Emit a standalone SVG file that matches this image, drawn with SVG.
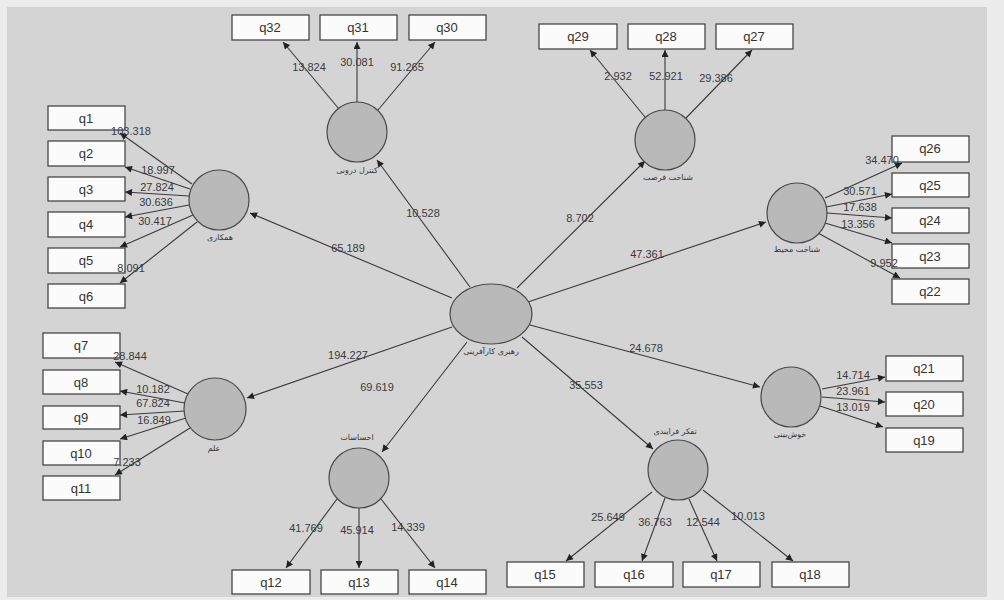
<svg xmlns="http://www.w3.org/2000/svg" width="1004" height="600" viewBox="0 0 1004 600">
<style>
.bg{fill:#d4d4d4}
.box rect{fill:#fbfbfb;stroke:#3a3a3a;stroke-width:1.2}
.box text{font-family:"Liberation Sans",Arial,sans-serif;font-size:13px;fill:#333;text-anchor:middle}
.lv circle,.lv ellipse{fill:#b9b9b9;stroke:#4a4a4a;stroke-width:1.2}
.lv text{font-family:"DejaVu Sans",sans-serif;font-size:8px;fill:#333;text-anchor:middle}
#connectors line{stroke:#3a3a3a;stroke-width:1.1;marker-end:url(#ah)}
.val{font-family:"Liberation Sans",Arial,sans-serif;font-size:11px;fill:#3a3a3a;text-anchor:middle}
</style>
<defs>
<marker id="ah" viewBox="0 0 10 10" refX="10" refY="5" markerWidth="8" markerHeight="7" markerUnits="userSpaceOnUse" orient="auto">
<path d="M0,0 L10,5 L0,10 z" fill="#222"/>
</marker>
</defs>
<rect x="0" y="0" width="1004" height="600" fill="#ececec"/>
<rect class="bg" x="7" y="7" width="980" height="590"/>

<g id="connectors">
<line x1="470" y1="287" x2="377" y2="160"/>
<line x1="517" y1="288" x2="645" y2="161"/>
<line x1="452" y1="298" x2="250" y2="213"/>
<line x1="528" y1="302" x2="766" y2="222"/>
<line x1="452" y1="327" x2="247" y2="398"/>
<line x1="467" y1="342" x2="382" y2="452"/>
<line x1="522" y1="337" x2="653" y2="449"/>
<line x1="530" y1="325" x2="760" y2="387"/>
<line x1="339" y1="109" x2="283" y2="42"/>
<line x1="357" y1="102" x2="357" y2="42"/>
<line x1="378" y1="110" x2="435" y2="42"/>
<line x1="645" y1="117" x2="590" y2="50"/>
<line x1="665" y1="110" x2="665" y2="50"/>
<line x1="686" y1="118" x2="752" y2="50"/>
<line x1="825" y1="198" x2="902" y2="163"/>
<line x1="826" y1="207" x2="892" y2="194"/>
<line x1="827" y1="213" x2="892" y2="218"/>
<line x1="825" y1="223" x2="892" y2="243"/>
<line x1="818" y1="233" x2="900" y2="278"/>
<line x1="192" y1="184" x2="120" y2="133"/>
<line x1="190" y1="189" x2="125" y2="167"/>
<line x1="189" y1="196" x2="125" y2="192"/>
<line x1="189" y1="205" x2="125" y2="217"/>
<line x1="193" y1="215" x2="120" y2="247"/>
<line x1="197" y1="222" x2="120" y2="283"/>
<line x1="188" y1="394" x2="115" y2="362"/>
<line x1="185" y1="403" x2="120" y2="391"/>
<line x1="185" y1="411" x2="120" y2="415"/>
<line x1="186" y1="418" x2="120" y2="439"/>
<line x1="190" y1="428" x2="115" y2="475"/>
<line x1="337" y1="499" x2="286" y2="568"/>
<line x1="359" y1="508" x2="359" y2="568"/>
<line x1="381" y1="499" x2="435" y2="568"/>
<line x1="652" y1="492" x2="566" y2="561"/>
<line x1="665" y1="498" x2="642" y2="561"/>
<line x1="689" y1="499" x2="717" y2="561"/>
<line x1="703" y1="490" x2="793" y2="561"/>
<line x1="822" y1="389" x2="885" y2="377"/>
<line x1="822" y1="397" x2="885" y2="402"/>
<line x1="820" y1="406" x2="883" y2="427"/>
</g>

<g id="center" class="lv"><ellipse cx="491" cy="314" rx="41" ry="30"/><text x="491" y="354">رهبری کارآفرینی</text></g>
<g id="lv-q30-32" class="lv"><circle cx="357" cy="132" r="30"/><text x="357" y="173">کنترل درونی</text></g>
<g id="lv-q27-29" class="lv"><circle cx="665" cy="140" r="30"/><text x="668" y="180">شناخت فرصت</text></g>
<g id="lv-q22-26" class="lv"><circle cx="797" cy="213" r="30"/><text x="797" y="252">شناخت محیط</text></g>
<g id="lv-q1-6" class="lv"><circle cx="219" cy="200" r="30"/><text x="220" y="240">همکاری</text></g>
<g id="lv-q7-11" class="lv"><circle cx="215" cy="409" r="31"/><text x="214" y="451">علم</text></g>
<g id="lv-q12-14" class="lv"><circle cx="359" cy="478" r="30"/><text x="357" y="440">احساسات</text></g>
<g id="lv-q15-18" class="lv"><circle cx="678" cy="470" r="30"/><text x="675" y="434">تفکر فرایندی</text></g>
<g id="lv-q19-21" class="lv"><circle cx="791" cy="397" r="30"/><text x="790" y="437">خوش‌بینی</text></g>

<g id="q32" class="box"><rect x="232" y="15" width="77" height="25"/><text x="270" y="32">q32</text></g>
<g id="q31" class="box"><rect x="320" y="15" width="77" height="25"/><text x="358" y="32">q31</text></g>
<g id="q30" class="box"><rect x="409" y="15" width="77" height="25"/><text x="447" y="32">q30</text></g>
<g id="q29" class="box"><rect x="539" y="24" width="78" height="25"/><text x="578" y="41">q29</text></g>
<g id="q28" class="box"><rect x="628" y="24" width="77" height="25"/><text x="666" y="41">q28</text></g>
<g id="q27" class="box"><rect x="716" y="24" width="77" height="25"/><text x="754" y="41">q27</text></g>
<g id="q26" class="box"><rect x="892" y="136" width="77" height="26"/><text x="930" y="153">q26</text></g>
<g id="q25" class="box"><rect x="892" y="173" width="77" height="24"/><text x="930" y="190">q25</text></g>
<g id="q24" class="box"><rect x="892" y="208" width="77" height="25"/><text x="930" y="225">q24</text></g>
<g id="q23" class="box"><rect x="892" y="244" width="77" height="24"/><text x="930" y="261">q23</text></g>
<g id="q22" class="box"><rect x="892" y="279" width="77" height="25"/><text x="930" y="296">q22</text></g>
<g id="q21" class="box"><rect x="886" y="356" width="77" height="25"/><text x="924" y="373">q21</text></g>
<g id="q20" class="box"><rect x="886" y="392" width="77" height="24"/><text x="924" y="409">q20</text></g>
<g id="q19" class="box"><rect x="886" y="428" width="77" height="24"/><text x="924" y="445">q19</text></g>
<g id="q1" class="box"><rect x="48" y="106" width="77" height="24"/><text x="86" y="123">q1</text></g>
<g id="q2" class="box"><rect x="48" y="141" width="77" height="25"/><text x="86" y="158">q2</text></g>
<g id="q3" class="box"><rect x="48" y="177" width="77" height="24"/><text x="86" y="194">q3</text></g>
<g id="q4" class="box"><rect x="48" y="212" width="77" height="25"/><text x="86" y="229">q4</text></g>
<g id="q5" class="box"><rect x="48" y="248" width="77" height="25"/><text x="86" y="265">q5</text></g>
<g id="q6" class="box"><rect x="48" y="284" width="77" height="24"/><text x="86" y="301">q6</text></g>
<g id="q7" class="box"><rect x="43" y="333" width="77" height="25"/><text x="81" y="350">q7</text></g>
<g id="q8" class="box"><rect x="43" y="370" width="77" height="24"/><text x="81" y="387">q8</text></g>
<g id="q9" class="box"><rect x="43" y="406" width="77" height="23"/><text x="81" y="422">q9</text></g>
<g id="q10" class="box"><rect x="43" y="441" width="77" height="24"/><text x="81" y="458">q10</text></g>
<g id="q11" class="box"><rect x="43" y="476" width="77" height="24"/><text x="81" y="493">q11</text></g>
<g id="q12" class="box"><rect x="232" y="570" width="78" height="24"/><text x="271" y="587">q12</text></g>
<g id="q13" class="box"><rect x="321" y="570" width="77" height="24"/><text x="359" y="587">q13</text></g>
<g id="q14" class="box"><rect x="409" y="570" width="77" height="24"/><text x="447" y="587">q14</text></g>
<g id="q15" class="box"><rect x="507" y="562" width="77" height="25"/><text x="545" y="579">q15</text></g>
<g id="q16" class="box"><rect x="595" y="562" width="78" height="25"/><text x="634" y="579">q16</text></g>
<g id="q17" class="box"><rect x="683" y="562" width="77" height="25"/><text x="721" y="579">q17</text></g>
<g id="q18" class="box"><rect x="772" y="562" width="77" height="25"/><text x="810" y="579">q18</text></g>

<g id="values">
<text class="val" x="423" y="217">10.528</text>
<text class="val" x="580" y="222">8.702</text>
<text class="val" x="348" y="252">65.189</text>
<text class="val" x="647" y="258">47.361</text>
<text class="val" x="348" y="359">194.227</text>
<text class="val" x="377" y="391">69.619</text>
<text class="val" x="586" y="389">35.553</text>
<text class="val" x="646" y="352">24.678</text>
<text class="val" x="309" y="71">13.824</text>
<text class="val" x="357" y="66">30.081</text>
<text class="val" x="407" y="71">91.265</text>
<text class="val" x="618" y="80">2.932</text>
<text class="val" x="666" y="80">52.921</text>
<text class="val" x="716" y="82">29.386</text>
<text class="val" x="882" y="164">34.470</text>
<text class="val" x="860" y="195">30.571</text>
<text class="val" x="860" y="211">17.638</text>
<text class="val" x="858" y="228">13.356</text>
<text class="val" x="884" y="267">9.952</text>
<text class="val" x="131" y="135">103.318</text>
<text class="val" x="158" y="174">18.997</text>
<text class="val" x="157" y="191">27.824</text>
<text class="val" x="156" y="206">30.636</text>
<text class="val" x="155" y="225">30.417</text>
<text class="val" x="131" y="272">8.091</text>
<text class="val" x="130" y="360">28.844</text>
<text class="val" x="153" y="393">10.182</text>
<text class="val" x="153" y="407">67.824</text>
<text class="val" x="154" y="424">16.849</text>
<text class="val" x="127" y="466">7.233</text>
<text class="val" x="306" y="532">41.769</text>
<text class="val" x="357" y="534">45.914</text>
<text class="val" x="408" y="531">14.339</text>
<text class="val" x="608" y="521">25.649</text>
<text class="val" x="655" y="526">36.763</text>
<text class="val" x="703" y="526">12.544</text>
<text class="val" x="748" y="520">10.013</text>
<text class="val" x="853" y="379">14.714</text>
<text class="val" x="853" y="395">23.961</text>
<text class="val" x="853" y="411">13.019</text>
</g>
</svg>
